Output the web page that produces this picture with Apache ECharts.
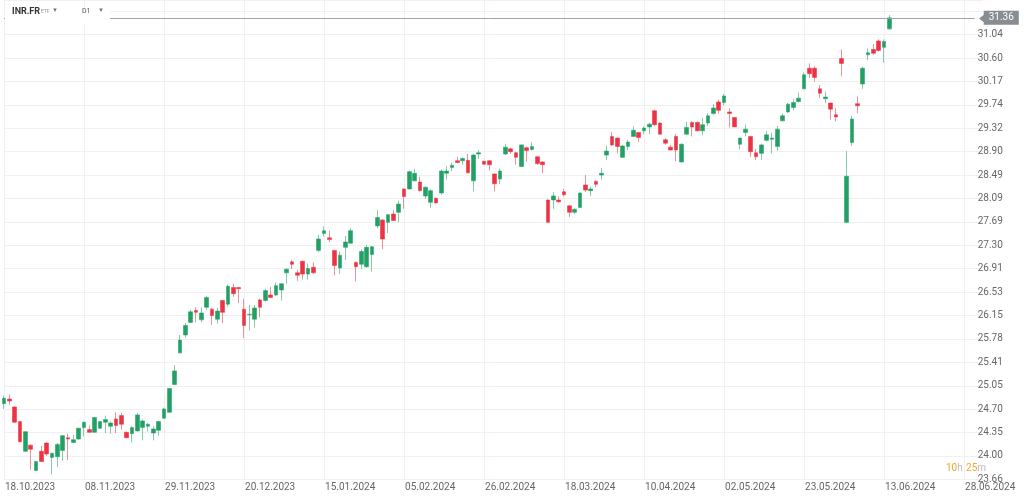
<!DOCTYPE html>
<html>
<head>
<meta charset="utf-8">
<script src="https://cdn.jsdelivr.net/npm/echarts@6/dist/echarts.min.js"></script>
<style>
html,body{margin:0;padding:0;background:#fff;}
#chart{width:1024px;height:496px;}
</style>
</head>
<body>
<div id="chart"></div>
<script>
// ---- data ----
const SYMBOL = 'INR.FR';
const FIRST_DAY = '2023-10-18';
const LAST_TRADING_DAY = '2024-06-14';
const HOLIDAYS = ['2023-12-25','2023-12-26','2024-01-01','2024-03-29','2024-04-01','2024-05-01'];
const TOTAL_SLOTS = 183;
const Y_TICK_LABELS = ['23.66','24.00','24.35','24.70','25.05','25.41','25.78','26.15','26.53','26.91','27.30','27.69','28.09','28.49','28.90','29.32','29.74','30.17','30.60','31.04'];
const LAST_PRICE = 31.36;

const OPEN = [24.78,24.85,24.73,24.51,24.07,24.16,23.79,24.07,24.19,23.98,23.99,24.08,24.27,24.20,24.25,24.42,24.39,24.35,24.41,24.50,
24.44,24.55,24.60,24.35,24.33,24.37,24.42,24.44,24.34,24.38,24.56,24.65,25.07,25.56,25.84,26.04,26.23,26.08,26.28,26.25,
26.09,26.39,26.33,26.60,26.60,26.25,26.16,26.09,26.40,26.39,26.48,26.48,26.56,26.84,27.02,26.84,27.03,26.82,26.93,27.21,
27.49,27.42,27.21,26.92,27.26,27.33,27.01,26.98,26.94,27.14,27.62,27.72,27.68,27.82,27.85,28.25,28.25,28.39,28.37,28.13,
28.02,28.09,28.18,28.52,28.62,28.74,28.74,28.75,28.39,28.86,28.73,28.74,28.51,28.42,28.86,28.95,28.88,28.64,28.97,28.94,
28.81,28.72,28.06,28.06,28.06,28.20,27.96,27.85,27.93,28.32,28.22,28.38,28.49,28.84,29.17,29.14,28.80,28.99,29.17,29.24,
29.27,29.34,29.63,29.41,29.11,28.98,29.17,28.72,29.21,29.42,29.42,29.27,29.41,29.58,29.79,29.78,29.61,29.51,29.03,29.24,
29.17,28.88,28.87,29.10,29.12,28.99,29.45,29.61,29.69,29.80,30.03,30.41,30.41,30.03,29.85,29.77,29.56,30.59,27.68,29.06,
29.76,30.12,30.66,30.76,30.92,30.80,31.15];
const CLOSE = [24.86,24.82,24.50,24.21,24.36,24.10,23.92,23.92,24.03,24.04,24.17,24.30,24.25,24.24,24.41,24.50,24.35,24.57,24.51,24.54,
24.49,24.45,24.47,24.27,24.42,24.61,24.52,24.47,24.40,24.51,24.70,25.01,25.28,25.76,25.99,26.21,26.20,26.19,26.44,26.15,
26.22,26.20,26.62,26.50,26.58,25.99,26.17,26.27,26.28,26.55,26.44,26.63,26.66,26.90,26.98,26.80,26.82,26.91,26.84,27.40,
27.54,27.39,26.96,27.13,27.35,27.54,26.94,27.19,27.26,27.27,27.76,27.40,27.81,27.71,27.99,28.12,28.55,28.52,28.22,28.28,
28.22,28.01,28.56,28.56,28.66,28.71,28.78,28.53,28.84,28.88,28.68,28.67,28.34,28.56,28.98,28.90,28.80,29.02,28.92,28.99,
28.69,28.67,27.68,28.13,28.03,28.15,27.85,27.90,28.18,28.23,28.25,28.33,28.52,28.91,29.02,28.99,29.00,29.07,29.28,29.15,
29.32,29.39,29.38,29.21,29.05,28.93,28.93,29.03,29.33,29.34,29.27,29.38,29.54,29.68,29.64,29.90,29.58,29.34,29.14,29.30,
28.90,28.81,29.02,29.20,29.14,29.30,29.54,29.75,29.78,29.86,30.29,30.31,30.24,29.95,29.88,29.66,29.52,30.50,28.47,29.48,
29.72,30.41,30.70,30.69,30.74,30.91,31.36];
const LOW = [24.70,24.76,24.50,24.20,24.06,23.80,23.78,23.91,24.00,23.73,23.84,23.93,23.94,24.19,24.24,24.29,24.34,24.35,24.40,24.34,
24.33,24.34,24.39,24.26,24.20,24.36,24.23,24.36,24.23,24.30,24.55,24.64,25.06,25.55,25.80,26.03,26.04,26.04,26.24,26.00,
26.02,26.03,26.29,26.45,26.35,25.79,25.91,25.96,26.12,26.37,26.43,26.46,26.39,26.66,26.90,26.71,26.73,26.73,26.82,27.18,
27.44,27.35,26.80,26.82,27.05,27.32,26.70,26.90,26.92,26.86,27.58,27.23,27.50,27.70,27.68,27.91,28.24,28.38,28.21,28.08,
27.92,28.00,28.15,28.41,28.56,28.70,28.67,28.52,28.21,28.77,28.67,28.57,28.21,28.33,28.84,28.86,28.67,28.63,28.73,28.92,
28.67,28.52,27.67,27.91,28.01,28.12,27.77,27.82,27.93,28.20,28.13,28.28,28.41,28.75,29.00,28.87,28.79,28.93,29.16,29.07,
29.21,29.21,29.36,29.20,29.02,28.92,28.73,28.71,29.20,29.17,29.26,29.19,29.36,29.56,29.58,29.73,29.33,29.34,28.94,29.17,
28.81,28.75,28.75,29.08,28.87,28.92,29.44,29.59,29.64,29.78,30.02,30.23,30.16,29.86,29.77,29.47,29.44,30.26,27.67,29.00,
29.59,30.03,30.56,30.66,30.72,30.51,31.13];
const HIGH = [24.90,24.92,24.74,24.52,24.37,24.17,23.93,24.15,24.21,24.05,24.19,24.31,24.33,24.31,24.42,24.51,24.45,24.58,24.52,24.60,
24.51,24.65,24.64,24.36,24.44,24.64,24.54,24.49,24.44,24.52,24.72,25.02,25.37,25.84,26.03,26.24,26.28,26.28,26.46,26.27,
26.27,26.40,26.65,26.66,26.61,26.42,26.32,26.32,26.42,26.58,26.61,26.68,26.67,26.91,27.05,26.89,27.04,26.99,27.01,27.47,
27.61,27.54,27.22,27.19,27.45,27.58,27.03,27.23,27.30,27.28,27.89,27.73,27.82,27.89,28.05,28.26,28.57,28.60,28.46,28.29,
28.25,28.10,28.59,28.65,28.71,28.81,28.80,28.86,28.86,28.93,28.74,28.75,28.52,28.60,29.04,28.97,28.90,29.03,28.99,29.07,
28.82,28.73,28.07,28.20,28.12,28.25,27.97,27.92,28.19,28.49,28.29,28.40,28.61,29.01,29.25,29.15,29.02,29.11,29.35,29.25,
29.35,29.42,29.65,29.42,29.14,29.02,29.21,29.05,29.43,29.44,29.44,29.50,29.59,29.75,29.83,29.94,29.68,29.51,29.15,29.38,
29.18,28.95,29.04,29.27,29.24,29.36,29.58,29.77,29.84,29.96,30.33,30.50,30.45,30.10,29.98,29.78,29.68,30.76,28.91,29.54,
29.89,30.44,30.78,30.86,30.95,30.95,31.41];

// ---- calendar: trading days, then calendar days for the future area ----
function fmt(d){
  const dd = String(d.getUTCDate()).padStart(2,'0');
  const mm = String(d.getUTCMonth()+1).padStart(2,'0');
  return dd + '.' + mm + '.' + d.getUTCFullYear();
}
const CATEGORIES = [];
(function(){
  const d = new Date(FIRST_DAY + 'T00:00:00Z');
  const last = new Date(LAST_TRADING_DAY + 'T00:00:00Z');
  while (d <= last) {
    const iso = d.toISOString().slice(0,10);
    const wd = d.getUTCDay();
    if (wd !== 0 && wd !== 6 && HOLIDAYS.indexOf(iso) < 0) CATEGORIES.push(fmt(d));
    d.setUTCDate(d.getUTCDate()+1);
  }
  while (CATEGORIES.length < TOTAL_SLOTS) {
    CATEGORIES.push(fmt(d));
    d.setUTCDate(d.getUTCDate()+1);
  }
})();

// ---- log price scale mapped to tick steps ----
const LN0 = Math.log(parseFloat(Y_TICK_LABELS[0]));
const STEP = (Math.log(parseFloat(Y_TICK_LABELS[Y_TICK_LABELS.length-1])) - LN0) / (Y_TICK_LABELS.length-1);
const toAxis = p => (Math.log(p) - LN0) / STEP;

const candleData = OPEN.map((o,i) => [toAxis(o), toAxis(CLOSE[i]), toAxis(LOW[i]), toAxis(HIGH[i])]);

const GREEN = '#22a065';
const RED = '#ec3343';
const GRID = '#f0f0f0';
const FONT = "'Liberation Sans Narrow','Arial Narrow','Roboto',sans-serif";

const chart = echarts.init(document.getElementById('chart'));
chart.setOption({
  animation: false,
  backgroundColor: '#ffffff',
  grid: {left: 4, right: 49.3, top: 0, bottom: 16.6, containLabel: false},
  xAxis: {
    type: 'category',
    data: CATEGORIES,
    boundaryGap: false,
    axisLine: {show: false},
    axisTick: {show: false},
    axisLabel: {interval: 14, align: 'left', margin: 3, color: '#666', fontSize: 10, fontFamily: FONT, padding: [0,0,0,1]},
    splitLine: {show: true, interval: 14, lineStyle: {color: GRID, width: 1}}
  },
  yAxis: {
    type: 'value',
    position: 'right',
    min: 0,
    max: 20.48,
    interval: 1,
    axisLine: {show: false},
    axisTick: {show: true, length: 8, lineStyle: {color: GRID}},
    axisLabel: {
      margin: 3, color: '#666', fontSize: 10, fontFamily: FONT,
      formatter: v => { const r = Math.round(v); return (Math.abs(v-r) < 1e-6 && Y_TICK_LABELS[r]) ? Y_TICK_LABELS[r] : ''; }
    },
    splitLine: {show: true, lineStyle: {color: GRID, width: 1}}
  },
  series: [{
    type: 'candlestick',
    data: candleData,
    barWidth: 4,
    clip: false,
    itemStyle: {
      color: GREEN, color0: RED,
      borderColor: 'rgba(34,160,101,0.55)', borderColor0: 'rgba(236,51,67,0.55)',
      borderWidth: 1
    },
    markLine: {
      silent: true,
      symbol: ['none','none'],
      lineStyle: {color: '#9ea3a8', type: 'solid', width: 1},
      label: {
        position: 'end', formatter: String(LAST_PRICE.toFixed(2)),
        backgroundColor: '#878d93', color: '#fff', fontSize: 10, fontFamily: FONT,
        padding: [2,5,2,5], distance: 9
      },
      data: [{yAxis: toAxis(LAST_PRICE)}]
    }
  }],
  graphic: [
    {type: 'rect', left: 5, top: 8, shape: {width: 105, height: 16}, style: {fill: '#fff'}, z: 100},
    {type: 'text', left: 12, top: 7, z: 101, style: {text: SYMBOL, fontSize: 9, fontWeight: 'bold', fill: '#333', fontFamily: FONT}},
    {type: 'text', left: 41, top: 9, z: 101, style: {text: 'ETF', fontSize: 5, fill: '#999', fontFamily: "'Roboto',sans-serif"}},
    {type: 'text', left: 52, top: 7, z: 101, style: {text: '▼', fontSize: 6, fill: '#777'}},
    {type: 'text', left: 82, top: 8, z: 101, style: {text: 'D1', fontSize: 7, fill: '#555', fontFamily: "'Roboto',sans-serif"}},
    {type: 'text', left: 98, top: 7, z: 101, style: {text: '▼', fontSize: 6, fill: '#777'}},
    {type: 'polygon', z: 102, shape: {points: [[979,18.5],[985,14],[985,23]]}, style: {fill: '#878d93'}},
    {type: 'text', left: 946, top: 462, z: 101, style: {
      text: '{o|10}{g|h} {o|25}{g|m}',
      rich: {o: {fill: '#f5a623', fontSize: 10, fontFamily: "'Roboto',sans-serif"}, g: {fill: '#bbb', fontSize: 10, fontFamily: "'Roboto',sans-serif"}}
    }}
  ]
});
</script>
</body>
</html>
